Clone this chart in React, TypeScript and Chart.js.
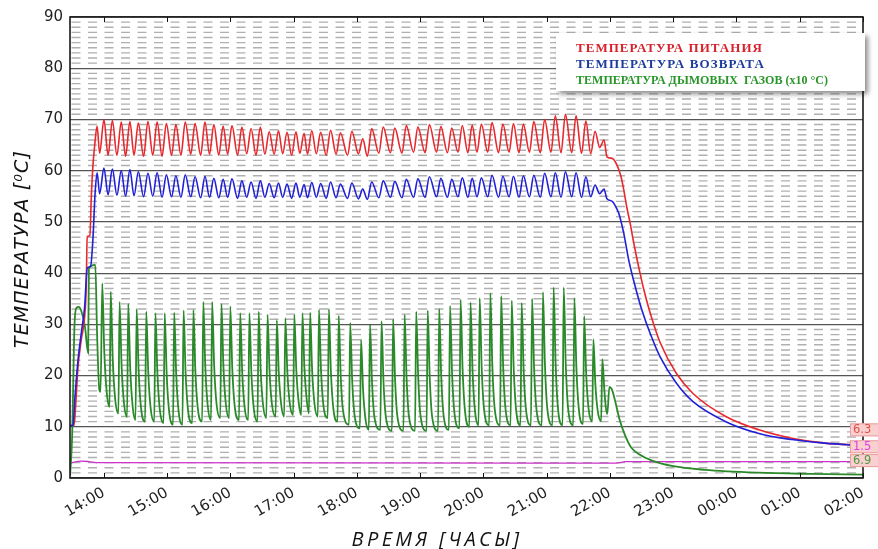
import React, { useEffect, useRef } from 'react';
import { Chart, registerables } from 'chart.js';

Chart.register(...registerables);

// x values: minutes after 14:00
const hourTicks = [0, 60, 120, 180, 240, 300, 360, 420, 480, 540, 600, 660, 720];
const hourLabels = ['14:00', '15:00', '16:00', '17:00', '18:00', '19:00', '20:00', '21:00', '22:00', '23:00', '00:00', '01:00', '02:00'];

const legendTexts = ['ТЕМПЕРАТУРА ПИТАНИЯ', 'ТЕМПЕРАТУРА ВОЗВРАТА', 'ТЕМПЕРАТУРА ДЫМОВЫХ  ГАЗОВ (x10 °C)'];
const endLabels = ['6.3', '1.5', '6.9'];
const endLabelLevels = [9.4, 6.1, 3.4];

const supplyPoints: [number, number][] = [
  [-31.9, 10.3], [-28.1, 10.3], [-26.9, 13.3], [-24.4, 21.7], [-21.3, 27.0], [-18.1, 31.5], [-16.6, 37.3], [-15.7, 47.1], [-13.1, 47.3], [-11.9, 54.3], [-10.3, 60.8], [-8.7, 64.7], [-6.3, 68.7],
  [-3.9, 63.4], [0.2, 70.0], [4.1, 63.0], [8.2, 69.8], [12.5, 63.0], [16.6, 69.5], [20.7, 62.8], [24.8, 69.6],
  [28.7, 63.0], [32.8, 69.3], [37.8, 62.8], [41.9, 69.6], [46.5, 63.0], [50.6, 69.5], [55.3, 62.8], [59.4, 69.2],
  [64.3, 63.0], [68.4, 69.0], [73.2, 63.0], [77.3, 69.5], [82.5, 63.2], [86.6, 69.2], [91.9, 63.0], [96.0, 69.5],
  [100.3, 63.2], [104.4, 69.0], [109.1, 63.0], [113.2, 68.7], [117.5, 63.2], [121.6, 68.8], [126.9, 63.0], [131.0, 68.5],
  [135.6, 63.3], [139.7, 68.2], [144.4, 63.0], [148.5, 68.5], [152.8, 63.2], [156.9, 67.6], [161.6, 63.2], [165.7, 67.8],
  [169.7, 63.3], [173.8, 67.5], [178.2, 63.0], [182.3, 67.6], [185.9, 63.4], [190.0, 67.3], [193.2, 63.2], [197.3, 67.8],
  [201.6, 63.3], [205.7, 67.5], [211.0, 63.0], [215.1, 67.9], [220.3, 63.2], [224.4, 67.4], [231.2, 63.0], [235.3, 67.7],
  [241.5, 63.3], [245.6, 66.2], [250.0, 62.8], [254.1, 68.2], [260.9, 63.4], [265.0, 68.5], [271.9, 63.5], [276.0, 68.3],
  [282.8, 63.4], [286.9, 68.8], [293.8, 63.6], [297.9, 68.5], [304.7, 63.5], [308.8, 69.0], [315.6, 63.6], [319.7, 68.6],
  [325.9, 63.5], [330.0, 68.3], [335.9, 63.6], [340.0, 68.8], [345.3, 63.5], [349.4, 68.9], [354.0, 63.6], [358.1, 69.1],
  [364.1, 63.6], [368.2, 69.4], [374.4, 63.5], [378.5, 69.1], [384.4, 63.6], [388.5, 69.2], [393.8, 63.5], [397.9, 69.1],
  [403.7, 63.6], [407.8, 69.6], [414.0, 63.5], [418.1, 70.0], [424.1, 63.6], [428.2, 70.7], [433.7, 63.5], [437.8, 71.0],
  [443.8, 63.5], [447.9, 70.7], [453.1, 63.4], [457.2, 69.7], [461.8, 63.3], [465.9, 67.7], [470.3, 64.5], [474.4, 66.0],
  [477.2, 62.7], [482.2, 62.4], [486.9, 61.0], [490.3, 59.0], [493.1, 56.3], [495.9, 53.0], [499.4, 49.5], [502.5, 46.0],
  [505.6, 42.8], [509.1, 39.5], [511.9, 37.0], [518.2, 32.2], [527.5, 26.5], [543.1, 20.4], [558.8, 16.5], [589.9, 12.0],
  [621.3, 9.4], [652.5, 7.75], [683.7, 6.8], [720, 6.4],
];

const returnPoints: [number, number][] = [
  [-31.9, 10.2], [-29.1, 10.3], [-27.5, 15.2], [-24.4, 23.0], [-21.3, 28.3], [-18.1, 33.4], [-15.7, 41.0], [-12.5, 41.3], [-10.3, 46.5], [-8.2, 55.6], [-6.3, 59.6],
  [-3.9, 55.5], [0.2, 60.5], [4.1, 55.3], [8.2, 60.3], [12.5, 55.2], [16.6, 60.0], [20.7, 55.0], [24.8, 60.2],
  [28.7, 55.1], [32.8, 59.8], [37.8, 54.9], [41.9, 59.5], [46.5, 55.0], [50.6, 59.6], [55.3, 54.8], [59.4, 59.2],
  [64.3, 54.9], [68.4, 59.0], [73.2, 54.8], [77.3, 59.2], [82.5, 54.9], [86.6, 58.8], [91.9, 54.7], [96.0, 58.9],
  [100.3, 54.8], [104.4, 58.5], [109.1, 54.7], [113.2, 58.3], [117.5, 54.8], [121.6, 58.4], [126.9, 54.6], [131.0, 58.0],
  [135.6, 54.8], [139.7, 57.8], [144.4, 54.6], [148.5, 58.0], [152.8, 54.8], [156.9, 57.5], [161.6, 54.7], [165.7, 57.6],
  [169.7, 54.8], [173.8, 57.4], [178.2, 54.6], [182.3, 57.6], [185.9, 54.8], [190.0, 57.3], [193.2, 54.7], [197.3, 57.7],
  [201.6, 54.8], [205.7, 57.5], [211.0, 54.6], [215.1, 57.8], [220.3, 54.7], [224.4, 57.4], [231.2, 54.6], [235.3, 57.6],
  [241.5, 54.5], [245.6, 56.4], [250.0, 54.4], [254.1, 57.8], [260.9, 54.7], [265.0, 58.0], [271.9, 54.8], [276.0, 57.9],
  [282.8, 54.7], [286.9, 58.3], [293.8, 54.8], [297.9, 58.4], [304.7, 54.8], [308.8, 58.8], [315.6, 54.9], [319.7, 58.5],
  [325.9, 54.8], [330.0, 58.3], [335.9, 54.9], [340.0, 58.6], [345.3, 54.8], [349.4, 58.5], [354.0, 54.9], [358.1, 58.6],
  [364.1, 54.9], [368.2, 59.1], [374.4, 54.8], [378.5, 58.9], [384.4, 54.9], [388.5, 58.9], [393.8, 54.8], [397.9, 59.0],
  [403.7, 54.9], [407.8, 59.1], [414.0, 54.8], [418.1, 59.5], [424.1, 54.9], [428.2, 59.6], [433.7, 54.8], [437.8, 59.8],
  [443.8, 54.9], [447.9, 59.6], [453.1, 54.8], [457.2, 58.8], [461.8, 54.9], [465.9, 57.2], [470.3, 55.5], [474.4, 56.4],
  [477.2, 54.5], [482.2, 54.0], [486.9, 52.4], [488.4, 51.7], [493.1, 47.8], [497.8, 42.6], [504.1, 37.3], [510.3, 32.8],
  [518.2, 28.2], [527.5, 23.7], [543.1, 18.5], [558.8, 14.9], [589.9, 11.0], [621.3, 8.7], [652.5, 7.5], [683.7, 6.8], [720, 6.3],
];

const fluePoints: [number, number][] = [
  [-31.9, 0.5], [-30.0, 8.0], [-27.7, 30.0], [-25.9, 33.2], [-23.9, 33.4], [-21.1, 32.5], [-17.8, 29.5], [-14.8, 24.4], [-14.1, 41.0], [-8.0, 41.6], [-6.3, 28.0], [-4.2, 17.2], [-3.0, 16.8],
  [-1.4, 38.0], [0.5, 24.7], [2.8, 16.8], [5.5, 13.9],
  [6.6, 36.4], [8.5, 23.3], [10.8, 15.5], [13.9, 12.6],
  [15.0, 34.4], [16.9, 22.0], [19.2, 14.6], [22.1, 11.9],
  [23.2, 34.0], [25.1, 21.5], [27.4, 14.0], [30.1, 11.3],
  [31.2, 33.0], [33.1, 20.9], [35.4, 13.6], [39.2, 11.0],
  [40.3, 32.5], [42.2, 20.7], [44.5, 13.6], [47.9, 11.0],
  [49.0, 32.2], [50.9, 20.4], [53.2, 13.3], [56.7, 10.7],
  [57.8, 32.2], [59.7, 20.2], [62.0, 13.0], [65.7, 10.4],
  [66.8, 32.3], [68.7, 20.3], [71.0, 13.0], [74.6, 10.4],
  [75.7, 32.7], [77.6, 20.6], [79.9, 13.3], [83.9, 10.7],
  [85.0, 32.8], [86.9, 20.8], [89.2, 13.6], [93.3, 11.0],
  [94.4, 34.4], [96.3, 21.7], [98.6, 14.1], [101.7, 11.3],
  [102.8, 34.4], [104.7, 21.9], [107.0, 14.4], [110.5, 11.7],
  [111.6, 34.0], [113.5, 21.7], [115.8, 14.4], [118.9, 11.7],
  [120.0, 33.5], [121.9, 21.3], [124.2, 14.0], [128.3, 11.3],
  [129.4, 32.2], [131.3, 20.7], [133.6, 13.8], [137.0, 11.3],
  [138.1, 32.2], [140.0, 20.5], [142.3, 13.5], [145.8, 11.0],
  [146.9, 32.5], [148.8, 21.1], [151.1, 14.2], [154.2, 11.7],
  [155.3, 31.9], [157.2, 21.0], [159.5, 14.4], [163.0, 12.0],
  [164.1, 30.8], [166.0, 20.5], [168.3, 14.3], [171.1, 12.0],
  [172.2, 31.2], [174.1, 20.8], [176.4, 14.6], [179.6, 12.3],
  [180.7, 31.9], [182.6, 21.1], [184.9, 14.7], [187.3, 12.3],
  [188.4, 32.2], [190.3, 21.4], [192.6, 15.0], [194.6, 12.6],
  [195.7, 32.3], [197.6, 21.1], [199.9, 14.4], [203.0, 12.0],
  [204.1, 32.8], [206.0, 21.2], [208.3, 14.2], [212.4, 11.7],
  [213.5, 33.0], [215.4, 20.9], [217.7, 13.6], [221.7, 11.0],
  [222.8, 31.7], [224.7, 20.0], [227.0, 13.0], [232.6, 10.4],
  [233.7, 30.3], [235.6, 19.0], [237.9, 12.2], [242.9, 9.7],
  [244.0, 27.0], [245.9, 17.3], [248.2, 11.5], [251.4, 9.4],
  [252.5, 30.0], [254.4, 18.7], [256.7, 11.9], [262.3, 9.4],
  [263.4, 30.6], [265.3, 18.8], [267.6, 11.8], [273.3, 9.2],
  [274.4, 31.0], [276.3, 19.0], [278.6, 11.8], [284.2, 9.2],
  [285.3, 31.9], [287.2, 19.4], [289.5, 11.9], [295.2, 9.2],
  [296.3, 32.5], [298.2, 19.7], [300.5, 12.0], [306.1, 9.2],
  [307.2, 32.7], [309.1, 19.8], [311.4, 12.0], [317.0, 9.2],
  [318.1, 33.0], [320.0, 20.0], [322.3, 12.2], [327.3, 9.4],
  [328.4, 33.6], [330.3, 20.5], [332.6, 12.6], [337.3, 9.7],
  [338.4, 34.8], [340.3, 21.2], [342.6, 13.0], [346.7, 10.0],
  [347.8, 34.3], [349.7, 21.1], [352.0, 13.2], [355.4, 10.3],
  [356.5, 35.1], [358.4, 21.5], [360.7, 13.3], [365.5, 10.3],
  [366.6, 36.1], [368.5, 21.9], [370.8, 13.4], [375.8, 10.3],
  [376.9, 35.5], [378.8, 21.6], [381.1, 13.3], [385.8, 10.3],
  [386.9, 34.6], [388.8, 21.2], [391.1, 13.2], [395.2, 10.3],
  [396.3, 34.2], [398.2, 21.1], [400.5, 13.2], [405.1, 10.3],
  [406.2, 35.0], [408.1, 21.4], [410.4, 13.3], [415.4, 10.3],
  [416.5, 36.3], [418.4, 22.0], [420.7, 13.4], [425.5, 10.3],
  [426.6, 37.2], [428.5, 22.4], [430.8, 13.5], [435.1, 10.3],
  [436.2, 37.2], [438.1, 22.4], [440.4, 13.5], [445.2, 10.3],
  [446.3, 35.1], [448.2, 21.6], [450.5, 13.5], [454.5, 10.5],
  [455.6, 31.6], [457.5, 20.3], [459.8, 13.5], [463.2, 11.0],
  [464.3, 27.1], [466.2, 18.3], [468.5, 13.0], [471.7, 11.1],
  [472.8, 23.2], [474.7, 17.3], [476.0, 14.0], [477.5, 12.5],
  [479.5, 17.8], [482.0, 17.2], [485.0, 15.0], [489.0, 11.5], [494.0, 8.5], [500.0, 6.0], [508.0, 4.6], [520.0, 3.4],
  [540.0, 2.3], [570.0, 1.6], [620.0, 1.05], [670.0, 0.8], [720.0, 0.65],
];

const fourthPoints: [number, number][] = [
  [-31.9, 2.9], [-28, 3.1], [-22, 3.3], [-14, 3.2], [-5, 3.0], [480, 2.9], [490, 3.0], [494, 3.2], [720, 3.2],
];

const toXY = (pts: [number, number][]) => pts.map(([x, y]) => ({ x, y }));

function fitText(ctx: CanvasRenderingContext2D, text: string, x: number, y: number, width: number) {
  const natural = ctx.measureText(text).width;
  if (natural < width) {
    (ctx as any).letterSpacing = (width - natural) / text.length + 'px';
    ctx.fillText(text, x, y);
    (ctx as any).letterSpacing = '0px';
  } else {
    ctx.save();
    ctx.translate(x, y);
    ctx.scale(width / natural, 1);
    ctx.fillText(text, 0, 0);
    ctx.restore();
  }
}

const decorPlugin = {
  id: 'decor',
  beforeDatasetsDraw(chart: any) {
    const { ctx, chartArea: a, scales } = chart;
    const y = scales.y;
    ctx.save();
    ctx.strokeStyle = '#b0b0b0';
    ctx.lineWidth = 1.4;
    ctx.setLineDash([9, 7.5]);
    for (let v = 1; v < 90; v++) {
      if (v % 10 === 0) continue;
      const py = y.getPixelForValue(v);
      ctx.beginPath();
      ctx.moveTo(a.left + 1.5, py);
      ctx.lineTo(a.right, py);
      ctx.stroke();
    }
    ctx.restore();
  },
  afterDatasetsDraw(chart: any) {
    const { ctx, chartArea: a, scales } = chart;
    const x = scales.x;
    const y = scales.y;
    ctx.save();
    ctx.strokeStyle = '#111';
    ctx.lineWidth = 1;
    for (const t of hourTicks) {
      const px = Math.round(x.getPixelForValue(t)) + 0.5;
      ctx.beginPath();
      ctx.moveTo(px, a.bottom);
      ctx.lineTo(px, a.bottom - 5);
      ctx.moveTo(px, a.top);
      ctx.lineTo(px, a.top + 5);
      ctx.stroke();
    }
    ctx.lineWidth = 1.6;
    ctx.strokeStyle = '#1a1a1a';
    ctx.strokeRect(a.left, a.top, a.right - a.left, a.bottom - a.top);

    // end labels
    const labelColors = ['#e0504a', '#e040e0', '#4f9a45'];
    ctx.font = '11.5px "DejaVu Sans"';
    ctx.textBaseline = 'middle';
    ctx.textAlign = 'left';
    endLabels.forEach((txt, i) => {
      const py = y.getPixelForValue(endLabelLevels[i]);
      ctx.fillStyle = '#f9cfcf';
      ctx.strokeStyle = '#e8a0a0';
      ctx.lineWidth = 1;
      ctx.fillRect(a.right - 13, py - 6.5, 30, 13);
      ctx.strokeRect(a.right - 12.5, py - 6, 30, 12);
      ctx.fillStyle = labelColors[i];
      ctx.fillText(txt, a.right - 10, py + 0.5);
    });

    // legend
    ctx.save();
    ctx.shadowColor = 'rgba(0,0,0,0.45)';
    ctx.shadowBlur = 5;
    ctx.shadowOffsetX = 3;
    ctx.shadowOffsetY = 3;
    ctx.fillStyle = '#ffffff';
    ctx.fillRect(556, 33, 309, 58);
    ctx.restore();
    const legendColors = ['#d9212b', '#1c3b9c', '#2a962a'];
    const legendWidths = [187, 189, 252];
    const legendBase = [52, 68, 84];
    ctx.textBaseline = 'alphabetic';
    legendTexts.forEach((txt, i) => {
      ctx.font = 'bold 13px "Liberation Serif"';
      ctx.fillStyle = legendColors[i];
      fitText(ctx, txt, 576, legendBase[i], legendWidths[i]);
    });
    ctx.restore();
  },
  afterDraw(chart: any) {
    const { ctx } = chart;
    ctx.save();
    ctx.fillStyle = '#111';
    ctx.textAlign = 'left';
    ctx.textBaseline = 'middle';
    ctx.font = 'italic 19px "DejaVu Sans"';
    ctx.save();
    ctx.translate(23, 249);
    ctx.rotate(-Math.PI / 2);
    const yt = 'ТЕМПЕРАТУРА [⁰C]';
    const w1 = 198;
    fitText(ctx, yt, -w1 / 2, 0, w1);
    ctx.restore();
    ctx.textBaseline = 'alphabetic';
    ctx.font = 'italic 20px "Open Sans"';
    const xt = 'ВРЕМЯ [ЧАСЫ]';
    const w2 = 171;
    fitText(ctx, xt, 437 - w2 / 2, 546, w2);
    ctx.restore();
  },
};

export default function App() {
  const ref = useRef<HTMLCanvasElement | null>(null);
  useEffect(() => {
    if (!ref.current) return;
    const common = { pointRadius: 0, borderWidth: 1.6, cubicInterpolationMode: 'monotone' as const, fill: false };
    const chart = new Chart(ref.current, {
      type: 'line',
      data: {
        datasets: [
          { ...common, label: legendTexts[1], data: toXY(returnPoints), borderColor: '#2020d8' },
          { ...common, label: legendTexts[0], data: toXY(supplyPoints), borderColor: '#e8282c' },
          { ...common, label: legendTexts[2], data: toXY(fluePoints), borderColor: '#2a8a2a', borderWidth: 1.8 },
          { ...common, label: 'pilot', data: toXY(fourthPoints), borderColor: '#cc33cc', borderWidth: 1.3 },
        ],
      },
      options: {
        animation: false,
        responsive: false,
        maintainAspectRatio: false,
        layout: { padding: { top: 17, right: 6, left: 0, bottom: 0 } },
        plugins: { legend: { display: false }, tooltip: { enabled: false }, title: { display: false } },
        scales: {
          x: {
            type: 'linear',
            min: -32,
            max: 720,
            afterBuildTicks: (scale: any) => {
              scale.ticks = hourTicks.map((value) => ({ value }));
            },
            afterFit: (scale: any) => {
              scale.height = 71;
            },
            grid: { display: false, drawTicks: false },
            border: { display: false },
            ticks: {
              autoSkip: false,
              minRotation: 30,
              maxRotation: 30,
              padding: 6,
              color: '#222',
              font: { family: '"DejaVu Sans"', size: 15 },
              callback: (value: any) => hourLabels[hourTicks.indexOf(Number(value))],
            },
          },
          y: {
            min: 0,
            max: 90,
            afterFit: (scale: any) => {
              scale.width = 70;
            },
            grid: { color: '#555', lineWidth: 1.2, drawTicks: false },
            border: { display: false },
            ticks: {
              stepSize: 10,
              padding: 7,
              color: '#222',
              font: { family: '"DejaVu Sans"', size: 15 },
            },
          },
        },
      },
      plugins: [decorPlugin],
    });
    return () => chart.destroy();
  }, []);
  return (
    <div style={{ position: 'absolute', left: 0, top: 0, width: 878, height: 549, background: '#fff' }}>
      <canvas ref={ref} width={878} height={549} />
    </div>
  );
}
